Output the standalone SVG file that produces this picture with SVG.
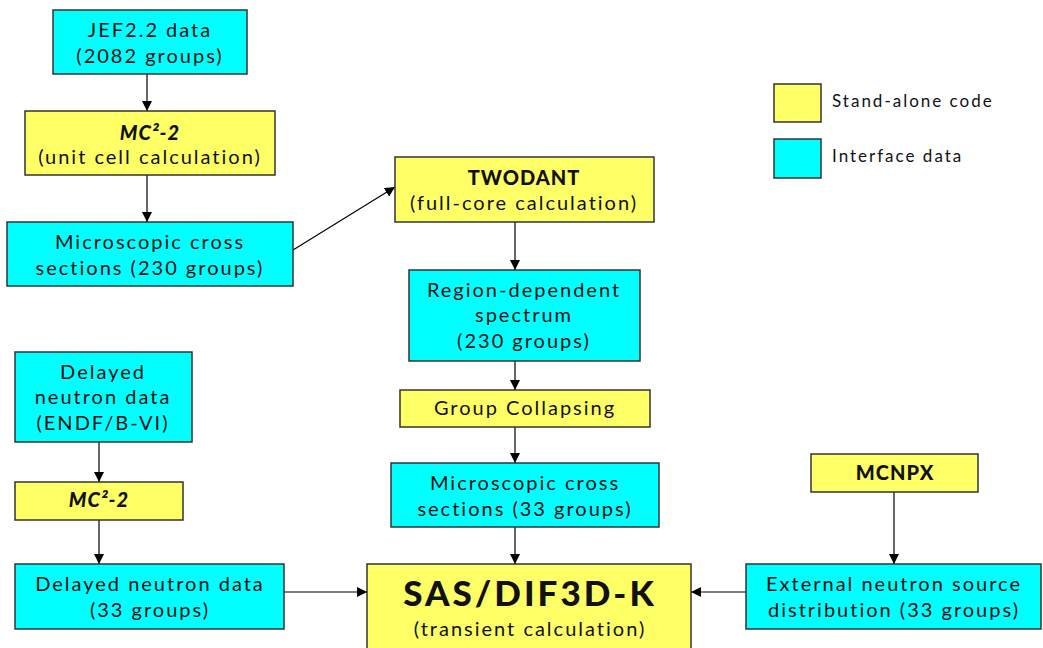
<svg xmlns="http://www.w3.org/2000/svg" width="1043" height="648" viewBox="0 0 1043 648">
<defs>
<style>
.y{fill:#ffff66;stroke:#333;stroke-width:1.5}
.c{fill:#00ffff;stroke:#333;stroke-width:1.5}
text{font-family:Lato,"Noto Sans",sans-serif;font-size:20px;fill:#111;text-anchor:middle;letter-spacing:2px}
.b{font-weight:900;letter-spacing:1px;font-style:italic}
.l{text-anchor:start;font-size:17px}
.e line{stroke:#000;stroke-width:1.2;marker-end:url(#a)}
</style>
<marker id="a" viewBox="0 0 10 10" refX="10" refY="5" markerWidth="10" markerHeight="10" markerUnits="userSpaceOnUse" orient="auto"><path d="M0,0L10,5L0,10z" fill="#000"/></marker>
</defs>
<rect width="1043" height="648" fill="#fff"/>
<g class="e" id="connectors">
<line x1="147" y1="74" x2="147" y2="111"/>
<line x1="147" y1="175" x2="147" y2="222"/>
<line x1="293" y1="250" x2="395" y2="187"/>
<line x1="515" y1="222" x2="515" y2="270"/>
<line x1="515" y1="361" x2="515" y2="390"/>
<line x1="515" y1="427" x2="515" y2="463"/>
<line x1="515" y1="527" x2="515" y2="564"/>
<line x1="99" y1="442" x2="99" y2="482"/>
<line x1="99" y1="520" x2="99" y2="564"/>
<line x1="284" y1="592" x2="367" y2="592"/>
<line x1="746" y1="592" x2="691" y2="592"/>
<line x1="894" y1="492" x2="894" y2="564"/>
</g>
<g id="jef"><rect class="c" x="53" y="10" width="194" height="64"/><text x="150" y="37">JEF2.2 data</text><text x="150" y="63">(2082 groups)</text></g>
<g id="mc2a"><rect class="y" x="25" y="111" width="250" height="64"/><text x="150" y="140" class="b">MC²-2</text><text x="150" y="164">(unit cell calculation)</text></g>
<g id="micro230"><rect class="c" x="7" y="222" width="286" height="64"/><text x="150" y="249">Microscopic cross</text><text x="150" y="275">sections (230 groups)</text></g>
<g id="twodant"><rect class="y" x="395" y="157" width="259" height="65"/><text x="524" y="185" class="b" style="font-style:normal">TWODANT</text><text x="524" y="210">(full-core calculation)</text></g>
<g id="region"><rect class="c" x="409" y="270" width="231" height="91"/><text x="524" y="297">Region-dependent</text><text x="524" y="322">spectrum</text><text x="524" y="348">(230 groups)</text></g>
<g id="collapse"><rect class="y" x="400" y="390" width="250" height="37"/><text x="525" y="415">Group Collapsing</text></g>
<g id="micro33"><rect class="c" x="391" y="463" width="268" height="64"/><text x="525" y="490">Microscopic cross</text><text x="525" y="516">sections (33 groups)</text></g>
<g id="sas"><rect class="y" x="367" y="564" width="324" height="90"/><text x="530" y="606" class="b" style="font-size:35px;letter-spacing:3px;font-style:normal">SAS/DIF3D-K</text><text x="530" y="636">(transient calculation)</text></g>
<g id="delayed"><rect class="c" x="15" y="352" width="177" height="90"/><text x="103" y="379">Delayed</text><text x="103" y="404">neutron data</text><text x="103" y="430">(ENDF/B-VI)</text></g>
<g id="mc2b"><rect class="y" x="15" y="482" width="168" height="38"/><text x="99" y="507" class="b">MC²-2</text></g>
<g id="delayed33"><rect class="c" x="15" y="564" width="269" height="65"/><text x="150" y="591">Delayed neutron data</text><text x="150" y="617">(33 groups)</text></g>
<g id="mcnpx"><rect class="y" x="811" y="454" width="167" height="38"/><text x="895" y="480" class="b" style="font-style:normal">MCNPX</text></g>
<g id="external"><rect class="c" x="746" y="564" width="295" height="65"/><text x="894" y="591">External neutron source</text><text x="894" y="617">distribution (33 groups)</text></g>
<g id="legend">
<rect class="y" x="774" y="84" width="47" height="38"/><text class="l" x="832" y="107">Stand-alone code</text>
<rect class="c" x="774" y="139" width="47" height="39"/><text class="l" x="832" y="162">Interface data</text>
</g>
</svg>
